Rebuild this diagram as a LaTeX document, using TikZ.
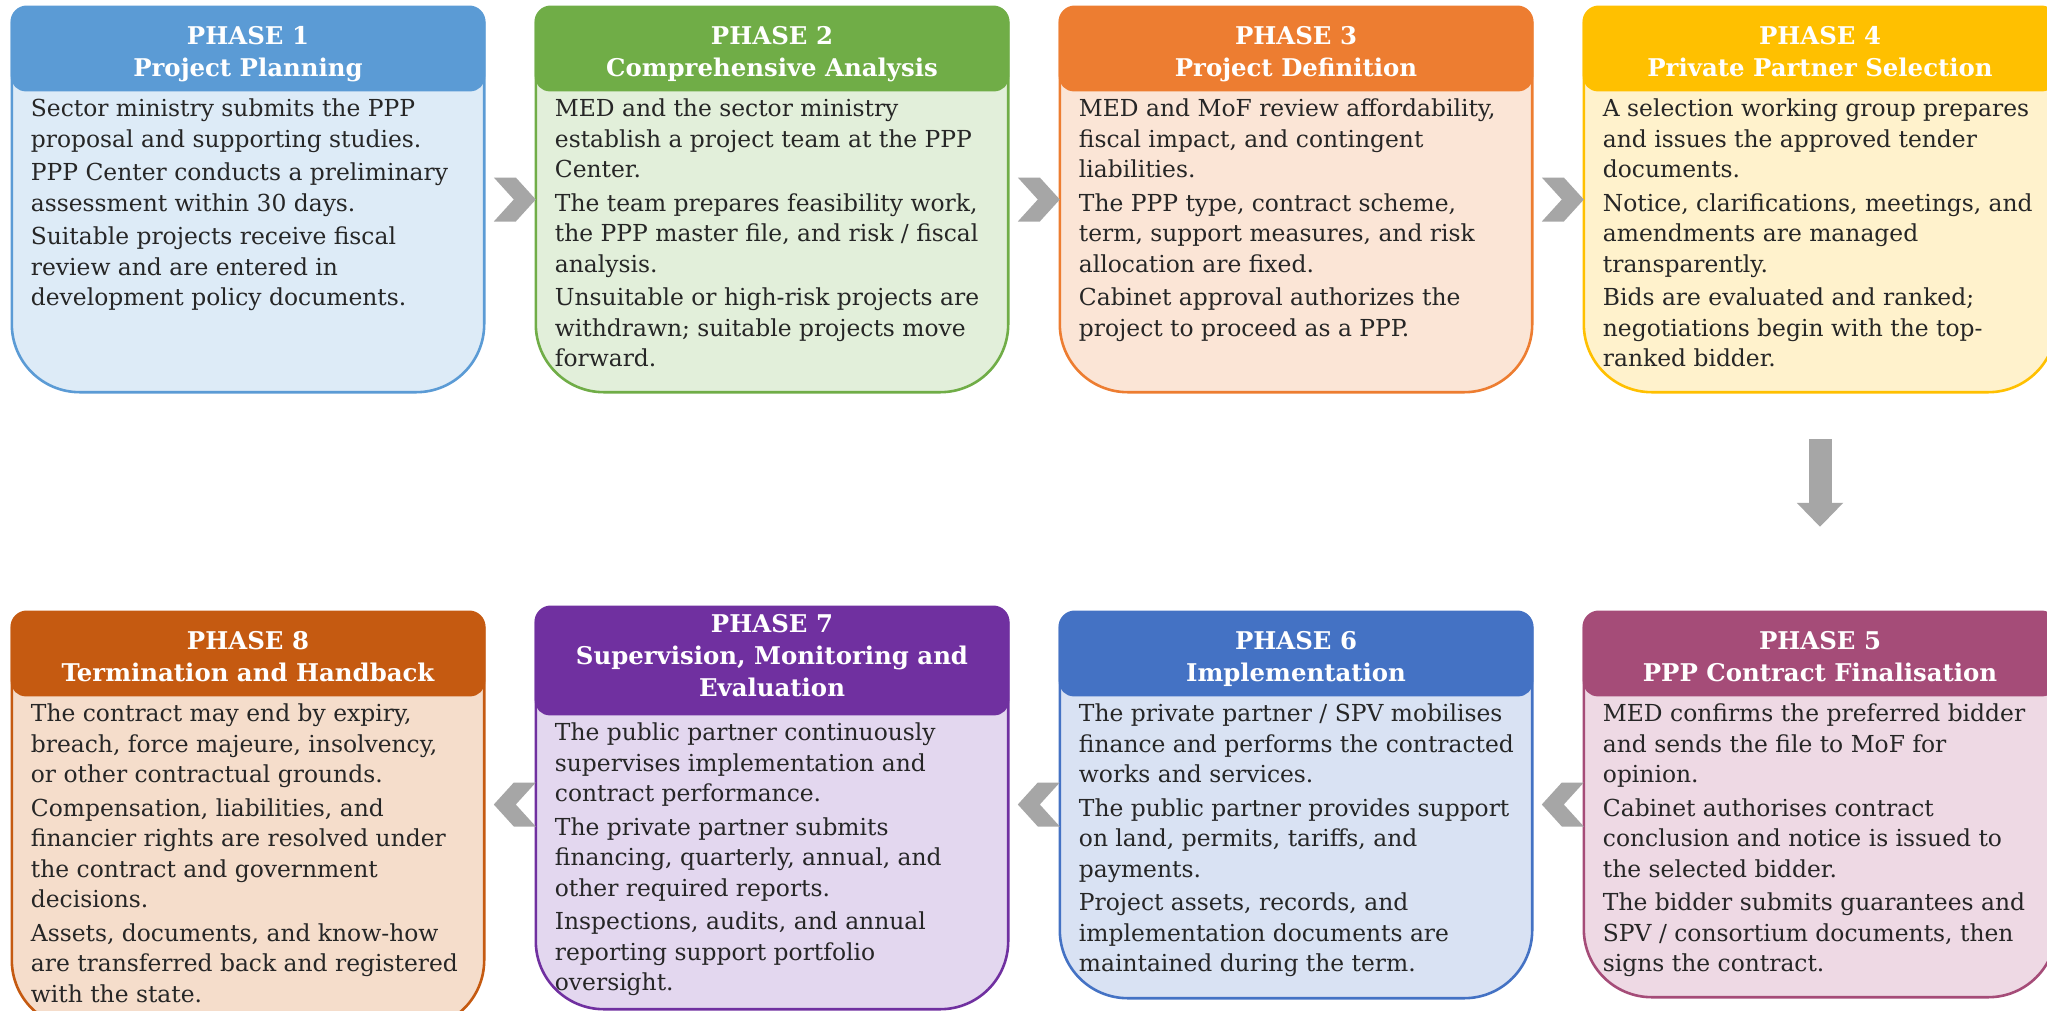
\documentclass[tikz,border=0pt]{standalone}
\usepackage{fontspec}
\setmainfont{DejaVu Serif}
\usetikzlibrary{calc, arrows.meta}

\definecolor{ph1}{HTML}{5B9BD5}\definecolor{lt1}{HTML}{DDEBF7}
\definecolor{ph2}{HTML}{70AD47}\definecolor{lt2}{HTML}{E2EFDA}
\definecolor{ph3}{HTML}{ED7D31}\definecolor{lt3}{HTML}{FBE5D6}
\definecolor{ph4}{HTML}{FFC000}\definecolor{lt4}{HTML}{FFF2CC}
\definecolor{ph5}{HTML}{A54C78}\definecolor{lt5}{HTML}{EED9E4}
\definecolor{ph6}{HTML}{4472C4}\definecolor{lt6}{HTML}{D9E2F3}
\definecolor{ph7}{HTML}{7030A0}\definecolor{lt7}{HTML}{E3D7EF}
\definecolor{ph8}{HTML}{C55A11}\definecolor{lt8}{HTML}{F5DDCB}
\definecolor{txt}{HTML}{262626}
\definecolor{arrgray}{HTML}{A6A6A6}

\begin{document}
\begin{tikzpicture}[x=1pt, y=-1pt,
	stage/.style={minimum width=472pt, inner sep=0pt},
	hdr/.style={draw=#1, fill=#1, line width=2.6pt, rounded corners=14pt,
		minimum width=472pt, minimum height=82pt, anchor=north, align=center,
		inner sep=0pt, text height=54pt, text depth=0pt, text=white,
		font=\bfseries\fontsize{24.4}{32}\selectfont},
	txtbox/.style={anchor=north west, align=left, inner sep=0pt, text=txt,
		font=\fontsize{23.4}{30.5}\selectfont, execute at begin node=\strut},
	chev/.style={fill=arrgray},
	downarr/.style={draw=arrgray, line width=23pt, -{Triangle[width=45pt, length=24pt]}}]
	
	\path[use as bounding box, fill=white] (0,0) rectangle (2047,1010);
	\clip (0,0) rectangle (2047,1010);
	
	% phase frames
	\node [stage, minimum height=385pt] (p1) at (248,199.5) {};
	\node [stage, minimum height=385pt] (p2) at (772,199.5) {};
	\node [stage, minimum height=385pt] (p3) at (1296,199.5) {};
	\node [stage, minimum height=385pt] (p4) at (1820,199.5) {};
	\node [stage, minimum height=385pt] (p5) at (1820,804.5) {};
	\node [stage, minimum height=386pt] (p6) at (1296,805) {};
	\node [stage, minimum height=402pt] (p7) at (772,808) {};
	\node [stage, minimum height=416pt] (p8) at (248,820) {};
	
	% outlines, round bottom
	\foreach \i in {1,...,8}
		\draw [line width=2.6pt, draw=ph\i, fill=lt\i] (p\i.west) [rounded corners=68pt]
			-- (p\i.south west) -- (p\i.south east) -- (p\i.east) [rounded corners=15pt]
			-- (p\i.north east) -- (p\i.north west) -- cycle;
	
	% headers
	\node [hdr=ph1] (h1) at (p1.north) {PHASE 1\\Project Planning};
	\node [hdr=ph2] (h2) at (p2.north) {PHASE 2\\Comprehensive Analysis};
	\node [hdr=ph3] (h3) at (p3.north) {PHASE 3\\Project Definition};
	\node [hdr=ph4] (h4) at (p4.north) {PHASE 4\\Private Partner Selection};
	\node [hdr=ph5] (h5) at (p5.north) {PHASE 5\\PPP Contract Finalisation};
	\node [hdr=ph6] (h6) at (p6.north) {PHASE 6\\Implementation};
	\node [hdr=ph7, minimum height=106pt, text height=70pt] (h7) at (p7.north) {PHASE 7\\Supervision, Monitoring and\\Evaluation};
	\node [hdr=ph8] (h8) at (p8.north) {PHASE 8\\Termination and Handback};
	
	% texts
	\node [txtbox] (t1) at ($(h1.south west)+(20,7.6)$) {Sector ministry submits the PPP\\proposal and supporting studies.\\[3pt]
		PPP Center conducts a preliminary\\assessment within 30 days.\\[3pt]
		Suitable projects receive fiscal\\review and are entered in\\development policy documents.};
	\node [txtbox] (t2) at ($(h2.south west)+(20,7.6)$) {MED and the sector ministry\\establish a project team at the PPP\\Center.\\[3pt]
		The team prepares feasibility work,\\the PPP master file, and risk / fiscal\\analysis.\\[3pt]
		Unsuitable or high-risk projects are\\withdrawn; suitable projects move\\forward.};
	\node [txtbox] (t3) at ($(h3.south west)+(20,7.6)$) {MED and MoF review affordability,\\fiscal impact, and contingent\\liabilities.\\[3pt]
		The PPP type, contract scheme,\\term, support measures, and risk\\allocation are fixed.\\[3pt]
		Cabinet approval authorizes the\\project to proceed as a PPP.};
	\node [txtbox] (t4) at ($(h4.south west)+(20,7.6)$) {A selection working group prepares\\and issues the approved tender\\documents.\\[3pt]
		Notice, clarifications, meetings, and\\amendments are managed\\transparently.\\[3pt]
		Bids are evaluated and ranked;\\negotiations begin with the top-\\ranked bidder.};
	\node [txtbox] (t5) at ($(h5.south west)+(20,7.6)$) {MED confirms the preferred bidder\\and sends the file to MoF for\\opinion.\\[3pt]
		Cabinet authorises contract\\conclusion and notice is issued to\\the selected bidder.\\[3pt]
		The bidder submits guarantees and\\SPV / consortium documents, then\\signs the contract.};
	\node [txtbox] (t6) at ($(h6.south west)+(20,7.6)$) {The private partner / SPV mobilises\\finance and performs the contracted\\works and services.\\[3pt]
		The public partner provides support\\on land, permits, tariffs, and\\payments.\\[3pt]
		Project assets, records, and\\implementation documents are\\maintained during the term.};
	\node [txtbox] (t7) at ($(h7.south west)+(20,7.6)$) {The public partner continuously\\supervises implementation and\\contract performance.\\[3pt]
		The private partner submits\\financing, quarterly, annual, and\\other required reports.\\[3pt]
		Inspections, audits, and annual\\reporting support portfolio\\oversight.};
	\node [txtbox] (t8) at ($(h8.south west)+(20,7.6)$) {The contract may end by expiry,\\breach, force majeure, insolvency,\\or other contractual grounds.\\[3pt]
		Compensation, liabilities, and\\financier rights are resolved under\\the contract and government\\decisions.\\[3pt]
		Assets, documents, and know-how\\are transferred back and registered\\with the state.};
	
	% chevrons, top row
	\foreach \b in {p2,p3,p4}
		\fill [chev] (\b.west |- p1) -- ++(-20,-22) -- ++(-22,0) -- ++(20,22) -- ++(-20,22) -- ++(22,0) -- cycle;
	% chevrons, bottom row
	\foreach \a in {p5,p6,p7}
		\fill [chev] ($(\a.west |- p5)+(0,-22)$) -- ++(-22,0) -- ++(-20,22) -- ++(20,22) -- ++(22,0) -- ++(-20,-22) -- cycle;
	
	% down to phase 5
	\draw [downarr] ($(p4.south)+(0,47)$) -- ($(p5.north)+(0,-85)$);
	
\end{tikzpicture}
\end{document}
